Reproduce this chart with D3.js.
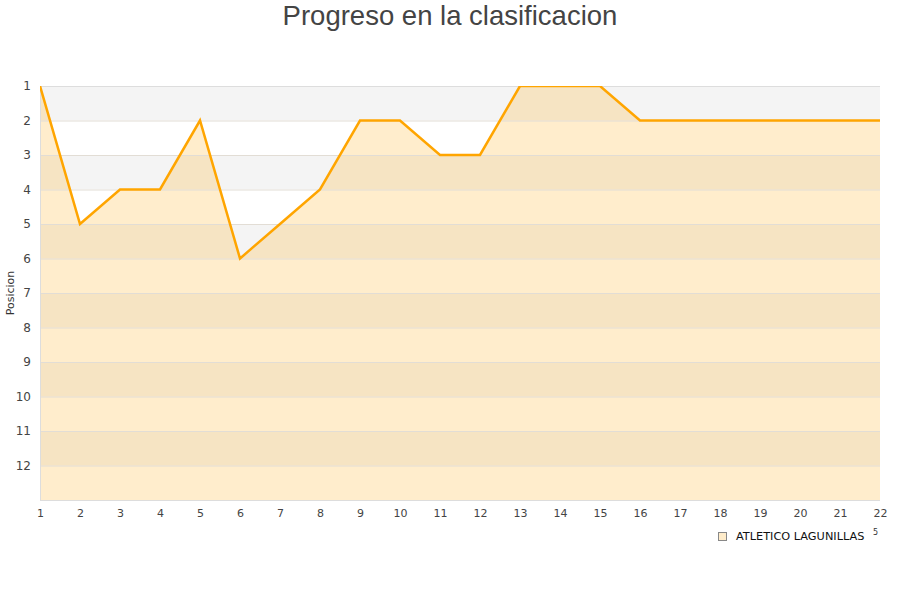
<!DOCTYPE html>
<html><head><meta charset="utf-8">
<script src="https://cdn.jsdelivr.net/npm/d3@7"></script>
<style>body{margin:0;background:#fff;font-family:"DejaVu Sans",sans-serif;}</style>
</head><body>
<svg id="c" width="900" height="600"></svg>
<script>
const jornadas = [1,2,3,4,5,6,7,8,9,10,11,12,13,14,15,16,17,18,19,20,21,22];
const posiciones = [1,5,4,4,2,6,5,4,2,2,3,3,1,1,1,2,2,2,2,2,2,2];
const yTicks = [1,2,3,4,5,6,7,8,9,10,11,12];
const teamName = "ATLETICO LAGUNILLAS";
const title = "Progreso en la clasificacion";
const yLabel = "Posicion";

const svg = d3.select("#c");
const L=40,R=880,T=86,B=500;
const x = d3.scaleLinear().domain([1,22]).range([L,R]);
const y = d3.scaleLinear().domain([1,13]).range([T,B]);

// bands
const bands = d3.range(1,13);
svg.append("g").selectAll("rect").data(bands).join("rect")
  .attr("x",L).attr("width",R-L)
  .attr("y",d=>y(d)).attr("height",d=>y(d+1)-y(d))
  .attr("fill",d=>d%2===1?"#f4f4f4":"#ffffff");

svg.append("defs").append("clipPath").attr("id","clip")
  .append("rect").attr("x",L).attr("y",T).attr("width",R-L).attr("height",B-T);

const data = jornadas.map((j,i)=>({j,p:posiciones[i]}));
svg.append("path").datum(data)
  .attr("d",d3.area().x(d=>x(d.j)).y0(B).y1(d=>y(d.p)))
  .attr("fill","rgba(255,165,0,0.2)");

// grid
svg.append("g").selectAll("line").data(d3.range(1,14)).join("line")
  .attr("x1",L).attr("x2",R).attr("y1",d=>y(d)+0.5).attr("y2",d=>y(d)+0.5)
  .attr("stroke","#e2ddd5").attr("stroke-width",1);
svg.append("line").attr("x1",L).attr("x2",R).attr("y1",T+0.5).attr("y2",T+0.5).attr("stroke","#dddddd");
svg.append("line").attr("x1",L+0.5).attr("x2",L+0.5).attr("y1",T).attr("y2",B+1).attr("stroke","#dddddd");
svg.append("line").attr("x1",L).attr("x2",R).attr("y1",B+0.5).attr("y2",B+0.5).attr("stroke","#dddddd");

svg.append("path").datum(data)
  .attr("clip-path","url(#clip)")
  .attr("d",d3.line().x(d=>x(d.j)).y(d=>y(d.p)))
  .attr("fill","none").attr("stroke","#ffa500").attr("stroke-width",2.5).attr("stroke-linejoin","miter");

// axes
const yAxis = d3.axisLeft(y).tickValues(yTicks).tickSize(0).tickPadding(0);
const gy = svg.append("g").attr("transform",`translate(${L-9},0)`).call(yAxis);
gy.select(".domain").remove();
gy.selectAll("text").attr("font-size",12).attr("fill","#444").attr("font-family","DejaVu Sans");

const xAxis = d3.axisBottom(x).tickValues(jornadas).tickSize(0).tickPadding(0);
const gx = svg.append("g").attr("transform",`translate(0,${B+9})`).call(xAxis);
gx.select(".domain").remove();
gx.selectAll("text").attr("font-size",11).attr("fill","#444").attr("font-family","DejaVu Sans");

svg.append("text").attr("transform","translate(14,293) rotate(-90)")
  .attr("text-anchor","middle").attr("font-size",11).attr("fill","#333").text(yLabel);

svg.append("text").attr("x",450).attr("y",25).attr("text-anchor","middle")
  .attr("font-size",27.5).attr("fill","#444").attr("font-family","Liberation Sans, Arial, sans-serif").text(title);

// legend
svg.append("rect").attr("x",718.5).attr("y",532.5).attr("width",8).attr("height",8)
  .attr("fill","#ffecca").attr("stroke","#888");
svg.append("text").attr("x",736).attr("y",540).attr("font-size",11.3).attr("fill","#111")
  .attr("font-family","DejaVu Sans").text(teamName);
svg.append("text").attr("x",873).attr("y",535).attr("font-size",8).attr("fill","#333").text("5");
</script>
</body></html>
